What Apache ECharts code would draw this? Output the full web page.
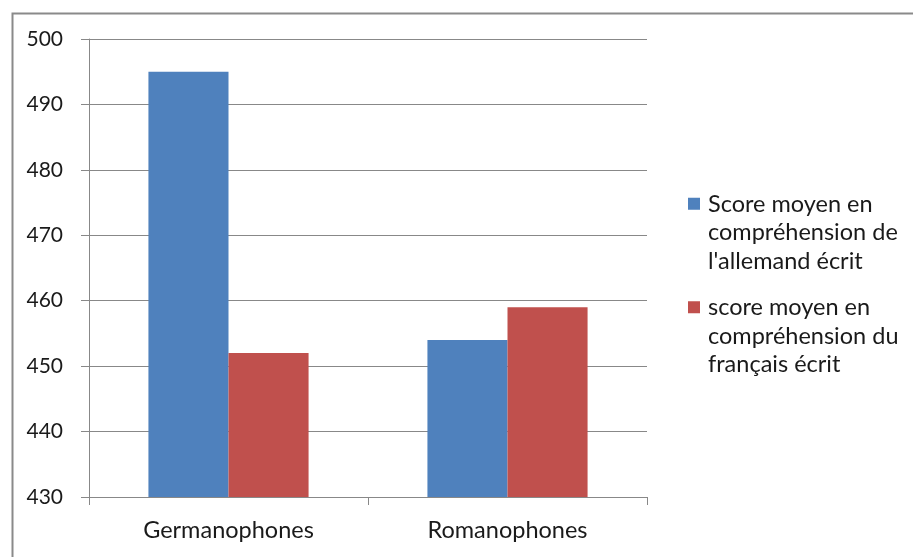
<!DOCTYPE html>
<html>
<head>
<meta charset="utf-8">
<script src="https://cdn.jsdelivr.net/npm/echarts@6/dist/echarts.min.js"></script>
<style>html,body{margin:0;padding:0;background:#fff;}#c{width:913px;height:557px;}</style>
</head>
<body>
<div id="c"></div>
<script>
const categories = ['Germanophones', 'Romanophones'];
const seriesNames = ["Score moyen en compréhension de l'allemand écrit", 'score moyen en compréhension du français écrit'];
const legendLines = [["Score moyen en", 'compréhension de', "l'allemand écrit"], ['score moyen en', 'compréhension du', 'français écrit']];
const germanScores = [495, 454];
const frenchScores = [452, 459];
const yTicks = [430, 440, 450, 460, 470, 480, 490, 500];

const FONT = 'Lato';
const chart = echarts.init(document.getElementById('c'), null, {renderer: 'canvas'});
chart.setOption({
  animation: false,
  backgroundColor: '#fff',
  textStyle: {fontFamily: FONT},
  graphic: [{
    type: 'rect', left: 10, top: 11, shape: {x: 0, y: 0, width: 930, height: 580},
    style: {fill: 'none', stroke: '#8a8a8a', lineWidth: 2}, silent: true
  }],
  grid: {left: 89, right: 266, top: 39, bottom: 60, containLabel: false},
  legend: {
    orient: 'vertical', left: 688, top: 190, padding: 0,
    itemWidth: 15, itemHeight: 70, itemGap: 18,
    icon: 'path://M0,0L12,0L12,12L0,12Z M15,70',
    data: seriesNames,
    formatter: function (name) { return legendLines[seriesNames.indexOf(name)].join('\n'); },
    textStyle: {fontFamily: FONT, fontSize: 23.5, color: '#1a1a1a', lineHeight: 28.5}
  },
  xAxis: {
    type: 'category', data: categories,
    axisLine: {lineStyle: {color: '#888', width: 1}},
    axisTick: {show: true, length: 8, lineStyle: {color: '#888'}},
    axisLabel: {fontFamily: FONT, fontSize: 23.5, color: '#1a1a1a', margin: 21}
  },
  yAxis: {
    type: 'value', min: yTicks[0], max: yTicks[yTicks.length - 1], interval: 10,
    axisLine: {show: true, lineStyle: {color: '#888', width: 1}},
    axisTick: {show: true, length: 8, lineStyle: {color: '#888'}},
    splitLine: {lineStyle: {color: '#888', width: 1}},
    axisLabel: {fontFamily: FONT, fontSize: 21, color: '#1a1a1a', margin: 26}
  },
  series: [
    {name: seriesNames[0], type: 'bar', data: germanScores, barWidth: '28.7%', barGap: '0%', itemStyle: {color: '#4F81BD'}},
    {name: seriesNames[1], type: 'bar', data: frenchScores, barWidth: '28.7%', barGap: '0%', itemStyle: {color: '#C0504D'}}
  ]
});
</script>
</body>
</html>
